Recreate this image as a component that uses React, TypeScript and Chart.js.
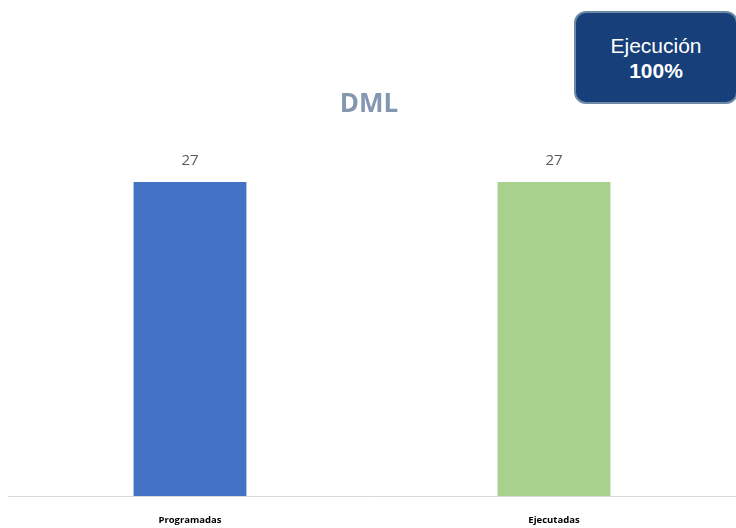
import React, { useEffect, useRef } from "react";
import { Chart, registerables } from "chart.js";

Chart.register(...registerables);

const categories = ["Programadas", "Ejecutadas"];
const values = [27, 27];
const barColors = ["#4472c4", "#a9d18e"];
const titleText = "DML";
const boxLine1 = "Ejecución";
const boxLine2 = "100%";

const valueLabels = {
  id: "valueLabels",
  afterDatasetsDraw(chart: any) {
    const ctx = chart.ctx;
    const meta = chart.getDatasetMeta(0);
    ctx.save();
    ctx.font = "15px 'Open Sans', 'Liberation Sans', Arial, sans-serif";
    ctx.fillStyle = "#595959";
    ctx.textAlign = "center";
    ctx.textBaseline = "middle";
    meta.data.forEach((bar: any, i: number) => {
      ctx.fillText(String(values[i]), bar.x, bar.y - 21);
    });
    ctx.restore();
  },
};

export default function App() {
  const ref = useRef<HTMLCanvasElement>(null);
  useEffect(() => {
    if (!ref.current) return;
    const chart = new Chart(ref.current, {
      type: "bar",
      data: {
        labels: categories,
        datasets: [
          {
            data: values,
            backgroundColor: barColors,
            barPercentage: 0.31,
            categoryPercentage: 1,
          },
        ],
      },
      options: {
        animation: false,
        responsive: false,
        maintainAspectRatio: false,
        layout: { padding: { top: 147, left: 8, right: 0, bottom: 0 } },
        plugins: { legend: { display: false }, title: { display: false }, tooltip: { enabled: false } },
        scales: {
          y: { display: false, min: 0, max: 30 },
          x: {
            grid: { display: false },
            border: { color: "#d9d9d9", width: 1 },
            afterFit: (scale: any) => {
              scale.height = 32;
            },
            ticks: {
              color: "#000000",
              padding: 11,
              maxRotation: 0,
              font: { family: "'Open Sans', 'Liberation Sans', sans-serif", size: 9.5, weight: "bold" },
            },
          },
        },
      },
      plugins: [valueLabels],
    });
    return () => chart.destroy();
  }, []);
  return (
    <div style={{ position: "fixed", left: 0, top: 0, width: 736, height: 528, background: "#fff", overflow: "hidden" }}>
      <canvas ref={ref} width={736} height={528} style={{ position: "absolute", left: 0, top: 0 }} />
      <div
        style={{
          position: "absolute",
          left: 0,
          width: 738,
          top: 85,
          textAlign: "center",
          fontFamily: "'Open Sans', 'Liberation Sans', sans-serif",
          fontWeight: "bold",
          fontSize: 26,
          color: "#8497b0",
          lineHeight: "34px",
        }}
      >
        {titleText}
      </div>
      <div
        style={{
          position: "absolute",
          left: 574,
          top: 11,
          width: 164,
          height: 93,
          boxSizing: "border-box",
          background: "#173f79",
          border: "2px solid #6f8aa8",
          borderRadius: 12,
          color: "#fff",
          textAlign: "center",
          fontFamily: "Arial, 'Liberation Sans', sans-serif",
          paddingTop: 20,
          fontSize: 21,
          lineHeight: "25px",
        }}
      >
        <div>{boxLine1}</div>
        <div style={{ fontWeight: "bold" }}>{boxLine2}</div>
      </div>
    </div>
  );
}
